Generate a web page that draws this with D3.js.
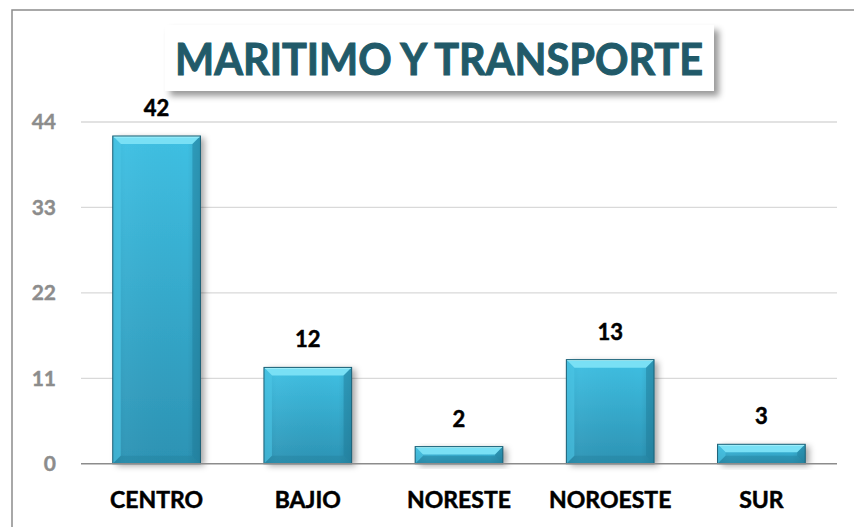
<!DOCTYPE html>
<html><head><meta charset="utf-8">
<script src="https://cdn.jsdelivr.net/npm/d3@7"></script>
<style>body{margin:0;background:#fff}svg{display:block}</style>
</head><body>
<script>
const categories = ["CENTRO", "BAJIO", "NORESTE", "NOROESTE", "SUR"];
const values = [42.2, 12.4, 2.2, 13.4, 2.5];
const yTicks = [0, 11, 22, 33, 44];
const title = "MARITIMO Y TRANSPORTE";

const W = 854, H = 527;
const FONT = "Lato, 'Open Sans', sans-serif";
const svg = d3.select("body").append("svg").attr("width", W).attr("height", H);
const defs = svg.append("defs");

const sh = defs.append("filter").attr("id","barShadow").attr("x","-20%").attr("y","-20%").attr("width","150%").attr("height","150%");
sh.append("feDropShadow").attr("dx",4).attr("dy",2).attr("stdDeviation",3).attr("flood-color","#000").attr("flood-opacity",0.35);
const ts = defs.append("filter").attr("id","titleShadow").attr("x","-10%").attr("y","-20%").attr("width","130%").attr("height","160%");
ts.append("feDropShadow").attr("dx",5).attr("dy",5).attr("stdDeviation",3).attr("flood-color","#000").attr("flood-opacity",0.4);

const g1 = defs.append("linearGradient").attr("id","barGrad").attr("x1",0).attr("y1",0).attr("x2",0).attr("y2",1);
g1.append("stop").attr("offset","0%").attr("stop-color","#3fc0e3");
g1.append("stop").attr("offset","100%").attr("stop-color","#2c93b4");
const g2 = defs.append("linearGradient").attr("id","barGradH").attr("x1",0).attr("y1",0).attr("x2",1).attr("y2",0);
g2.append("stop").attr("offset","0%").attr("stop-color","#000").attr("stop-opacity",0.05);
g2.append("stop").attr("offset","15%").attr("stop-color","#fff").attr("stop-opacity",0.03);
g2.append("stop").attr("offset","85%").attr("stop-color","#000").attr("stop-opacity",0.0);
g2.append("stop").attr("offset","100%").attr("stop-color","#000").attr("stop-opacity",0.12);

// outer frame
svg.append("rect").attr("x",12).attr("y",10).attr("width",W-12+5).attr("height",H-10+5)
  .attr("fill","#fff").attr("stroke","#8c8c8c").attr("stroke-width",1.5);

const x = d3.scaleBand().domain(categories).range([81, 837]).paddingInner(0.42).paddingOuter(0.21);
const y = d3.scaleLinear().domain([0, 44]).range([463.7, 122]);

// gridlines
svg.append("g").selectAll("line").data(yTicks.filter(d=>d>0)).join("line")
  .attr("x1",81).attr("x2",837).attr("y1",d=>y(d)).attr("y2",d=>y(d))
  .attr("stroke","#d9d9d9").attr("stroke-width",1.3);

// y axis labels
const yAxis = d3.axisLeft(y).tickValues(yTicks).tickSize(0).tickPadding(0);
const ya = svg.append("g").attr("transform","translate(56,0)").call(yAxis);
ya.select(".domain").remove();
ya.selectAll("text").attr("font-family",FONT).attr("font-weight","bold")
  .attr("font-size",21).attr("fill","#8c8c8c").attr("stroke","#8c8c8c").attr("stroke-width",0.4);

// bars
const bars = svg.append("g").selectAll("g").data(values).join("g");
bars.each(function(v,i){
  const gg = d3.select(this);
  const bx = x(categories[i]), bw = x.bandwidth();
  const top = y(v), bot = y(0), h = bot - top;
  const b = Math.min(8, h/2.2);
  gg.append("rect").attr("x",bx).attr("y",top).attr("width",bw).attr("height",h)
    .attr("fill","url(#barGrad)").attr("filter","url(#barShadow)");
  gg.append("rect").attr("x",bx).attr("y",top).attr("width",bw).attr("height",h).attr("fill","url(#barGradH)");
  gg.append("polygon").attr("points",[[bx,top],[bx+bw,top],[bx+bw-b,top+b],[bx+b,top+b]].join(" "))
    .attr("fill","#79e0f5");
  gg.append("polygon").attr("points",[[bx,top],[bx+b,top+b],[bx+b,bot-b],[bx,bot]].join(" "))
    .attr("fill","#4cc6e6").attr("opacity",0.6);
  gg.append("polygon").attr("points",[[bx+bw,top],[bx+bw-b,top+b],[bx+bw-b,bot-b],[bx+bw,bot]].join(" "))
    .attr("fill","#1f7e9c").attr("opacity",0.5);
  gg.append("polygon").attr("points",[[bx,bot],[bx+b,bot-b],[bx+bw-b,bot-b],[bx+bw,bot]].join(" "))
    .attr("fill","#237f9c").attr("opacity",0.4);
  gg.append("line").attr("x1",bx+1).attr("x2",bx+bw-1).attr("y1",top+0.8).attr("y2",top+0.8)
    .attr("stroke","#a8f2fb").attr("stroke-width",1.2);
  gg.append("rect").attr("x",bx).attr("y",top).attr("width",bw).attr("height",h)
    .attr("fill","none").attr("stroke","#1c5f75").attr("stroke-width",1);
});

// baseline axis
const xAxis = d3.axisBottom(x).tickSize(0).tickPadding(0);
const xa = svg.append("g").attr("transform",`translate(0,${y(0)})`).call(xAxis);
xa.select(".domain").attr("d","M81,0H837").attr("stroke","#8c8c8c").attr("stroke-width",1.5);
xa.selectAll("text").attr("dy",0).attr("y",44.5).attr("font-family",FONT)
  .attr("font-weight","bold").attr("font-size",23).attr("fill","#000")
  .attr("stroke","#000").attr("stroke-width",0.5);

// value labels
svg.append("g").selectAll("text").data(values).join("text")
  .attr("x",(d,i)=>x(categories[i])+x.bandwidth()/2).attr("y",d=>y(d)-20)
  .attr("text-anchor","middle").attr("font-family",FONT)
  .attr("font-weight","bold").attr("font-size",22).attr("fill","#000")
  .attr("stroke","#000").attr("stroke-width",0.5)
  .text(d=>d3.format(".0f")(d));

// title
svg.append("rect").attr("x",165).attr("y",25).attr("width",549).attr("height",66)
  .attr("fill","#fff").attr("filter","url(#titleShadow)");
svg.append("text").attr("x",175).attr("y",75)
  .attr("textLength",528).attr("lengthAdjust","spacingAndGlyphs")
  .attr("font-family",FONT).attr("font-weight","bold")
  .attr("font-size",43).attr("fill","#215a69")
  .attr("stroke","#215a69").attr("stroke-width",1).text(title);
</script>
</body></html>
